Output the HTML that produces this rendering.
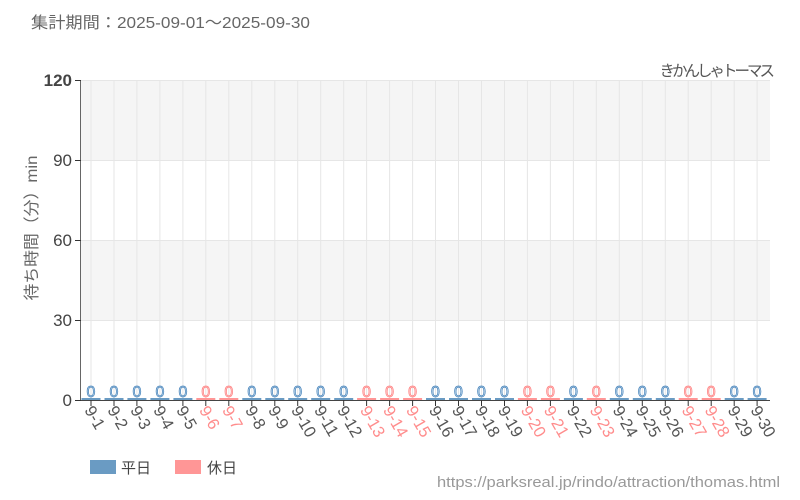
<!DOCTYPE html>
<html><head><meta charset="utf-8">
<style>
html,body{margin:0;padding:0;background:#fff;}
svg{display:block;font-family:"Liberation Sans","Noto Sans CJK JP",sans-serif;}
</style></head>
<body>
<svg width="800" height="500" viewBox="0 0 800 500" xmlns="http://www.w3.org/2000/svg">
<rect width="800" height="500" fill="#fff"/>
<text x="31" y="28" font-size="16" fill="#666" textLength="279" lengthAdjust="spacingAndGlyphs">集計期間：2025-09-01～2025-09-30</text>
<text x="772" y="76" font-size="15.5" fill="#555" text-anchor="end" letter-spacing="-3">きかんしゃトーマス</text>
<!-- bands -->
<rect x="81" y="80" width="689" height="80" fill="#f5f5f5"/>
<rect x="81" y="240" width="689" height="80" fill="#f5f5f5"/>
<!-- horizontal grid -->
<g stroke="#e6e6e6" stroke-width="1">
<line x1="81" y1="80.5" x2="770" y2="80.5"/>
<line x1="81" y1="160.5" x2="770" y2="160.5"/>
<line x1="81" y1="240.5" x2="770" y2="240.5"/>
<line x1="81" y1="320.5" x2="770" y2="320.5"/>
</g>
<g id="vg" stroke="#e6e6e6" stroke-width="1"></g>
<!-- axes -->
<line x1="80.5" y1="80" x2="80.5" y2="400" stroke="#666" stroke-width="1"/>
<line x1="81" y1="400.5" x2="770" y2="400.5" stroke="#444" stroke-width="1"/>
<g stroke="#333" stroke-width="1">
<line x1="75" y1="80.5" x2="81" y2="80.5"/>
<line x1="75" y1="160.5" x2="81" y2="160.5"/>
<line x1="75" y1="240.5" x2="81" y2="240.5"/>
<line x1="75" y1="320.5" x2="81" y2="320.5"/>
<line x1="75" y1="400.5" x2="81" y2="400.5"/>
</g>
<g font-size="17" fill="#444" text-anchor="end">
<text x="72" y="86" font-weight="bold">120</text>
<text x="72" y="166">90</text>
<text x="72" y="246">60</text>
<text x="72" y="326">30</text>
<text x="72" y="406">0</text>
</g>
<text transform="translate(37,228) rotate(-90)" font-size="16" fill="#666" text-anchor="middle" textLength="145" lengthAdjust="spacingAndGlyphs">待ち時間（分）min</text>
<g id="cats"></g>
<!-- legend -->
<rect x="90" y="460" width="26" height="14" fill="#6a9bc3"/>
<text x="121" y="473" font-size="15" fill="#444">平日</text>
<rect x="175" y="460" width="26" height="14" fill="#ff9696"/>
<text x="207" y="473" font-size="15" fill="#444">休日</text>
<text x="780" y="487" font-size="15" fill="#999" text-anchor="end" textLength="343" lengthAdjust="spacingAndGlyphs">https://parksreal.jp/rindo/attraction/thomas.html</text>
<script>
(function(){
var ns="http://www.w3.org/2000/svg";
var hol=[6,7,13,14,15,20,21,23,27,28];
var vg=document.getElementById('vg'), g=document.getElementById('cats');
for(var i=1;i<=30;i++){
 var cx=91+(i-1)*22.97;
 var h=hol.indexOf(i)>=0;
 var col=h?"#ff9696":"#6a9bc3";
 var tcol=h?"#ff8c8c":"#555";
 var dfill=h?"#ffd0d0":"#c6daeb";
 var dstroke=h?"#ff7f7f":"#4583bb";
 var l=document.createElementNS(ns,'line');
 l.setAttribute('x1',cx.toFixed(1));l.setAttribute('x2',cx.toFixed(1));
 l.setAttribute('y1',80);l.setAttribute('y2',400);vg.appendChild(l);
 var r=document.createElementNS(ns,'rect');
 r.setAttribute('x',(cx-9.5).toFixed(1));r.setAttribute('y',398);
 r.setAttribute('width',19);r.setAttribute('height',2);r.setAttribute('fill',col);g.appendChild(r);
 var t=document.createElementNS(ns,'line');
 t.setAttribute('x1',cx.toFixed(1));t.setAttribute('x2',cx.toFixed(1));
 t.setAttribute('y1',400);t.setAttribute('y2',406);t.setAttribute('stroke','#333');g.appendChild(t);
 var d=document.createElementNS(ns,'text');
 d.setAttribute('x',cx.toFixed(1));d.setAttribute('y',397);d.setAttribute('text-anchor','middle');
 d.setAttribute('font-size','16');d.setAttribute('fill',dfill);d.setAttribute('stroke',dstroke);
 d.setAttribute('stroke-width','0.7');d.textContent='0';g.appendChild(d);
 var x=document.createElementNS(ns,'text');
 var px=cx-7, py=410;
 x.setAttribute('transform','translate('+px.toFixed(1)+','+py+') rotate(60)');
 x.setAttribute('font-size','16.5');x.setAttribute('fill',tcol);
 x.textContent='9-'+i;g.appendChild(x);
}
})();
</script>
</svg>
</body></html>
